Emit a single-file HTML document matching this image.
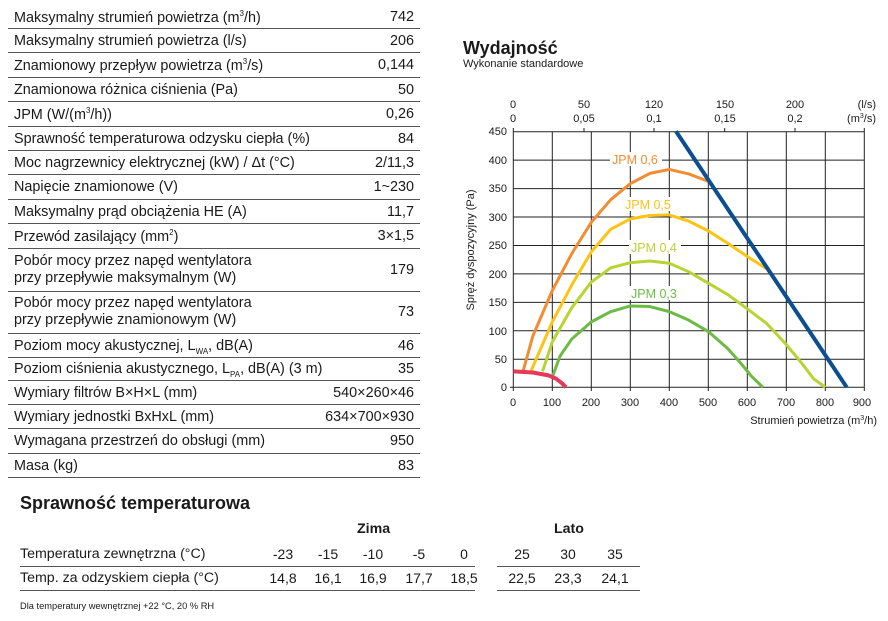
<!DOCTYPE html>
<html><head><meta charset="utf-8"><style>
body{margin:0;width:888px;height:621px;background:#fff;font-family:"Liberation Sans",sans-serif;color:#1a1a1a;position:relative;overflow:hidden}
.r{position:absolute;left:8px;width:412px;border-bottom:1.5px solid #555;font-size:14.4px;box-sizing:border-box}
.r .l{position:absolute;left:6px;white-space:nowrap}
.r .v{position:absolute;right:6px;}
sup{font-size:8px}
sub{font-size:8px}
.t{position:absolute;font-size:14.2px}
</style></head><body>
<div class="r" style="top:5px;height:24px"><span class="l" style="top:4px">Maksymalny strumień powietrza (m<sup>3</sup>/h)</span><span class="v" style="top:4px">742</span></div>
<div class="r" style="top:29px;height:24px"><span class="l" style="top:4px">Maksymalny strumień powietrza (l/s)</span><span class="v" style="top:4px">206</span></div>
<div class="r" style="top:53px;height:25px"><span class="l" style="top:4px">Znamionowy przepływ powietrza (m<sup>3</sup>/s)</span><span class="v" style="top:4px">0,144</span></div>
<div class="r" style="top:78px;height:24px"><span class="l" style="top:4px">Znamionowa różnica ciśnienia (Pa)</span><span class="v" style="top:4px">50</span></div>
<div class="r" style="top:102px;height:25px"><span class="l" style="top:4px">JPM (W/(m<sup>3</sup>/h))</span><span class="v" style="top:4px">0,26</span></div>
<div class="r" style="top:127px;height:24px"><span class="l" style="top:4px">Sprawność temperaturowa odzysku ciepła (%)</span><span class="v" style="top:4px">84</span></div>
<div class="r" style="top:151px;height:24px"><span class="l" style="top:4px">Moc nagrzewnicy elektrycznej (kW) / Δt (°C)</span><span class="v" style="top:4px">2/11,3</span></div>
<div class="r" style="top:175px;height:25px"><span class="l" style="top:4px">Napięcie znamionowe (V)</span><span class="v" style="top:4px">1~230</span></div>
<div class="r" style="top:200px;height:24px"><span class="l" style="top:4px">Maksymalny prąd obciążenia HE (A)</span><span class="v" style="top:4px">11,7</span></div>
<div class="r" style="top:224px;height:25px"><span class="l" style="top:4px">Przewód zasilający (mm<sup>2</sup>)</span><span class="v" style="top:4px">3×1,5</span></div>
<div class="r" style="top:249px;height:43px"><span class="l" style="top:4px;line-height:17px">Pobór mocy przez napęd wentylatora<br>przy przepływie maksymalnym (W)</span><span class="v" style="top:13px">179</span></div>
<div class="r" style="top:292px;height:42px"><span class="l" style="top:3px;line-height:17px">Pobór mocy przez napęd wentylatora<br>przy przepływie znamionowym (W)</span><span class="v" style="top:12px">73</span></div>
<div class="r" style="top:334px;height:24px"><span class="l" style="top:4px">Poziom mocy akustycznej, L<sub>WA</sub>, dB(A)</span><span class="v" style="top:4px">46</span></div>
<div class="r" style="top:358px;height:23px"><span class="l" style="top:3px">Poziom ciśnienia akustycznego, L<sub>PA</sub>, dB(A) (3 m)</span><span class="v" style="top:3px">35</span></div>
<div class="r" style="top:381px;height:24px"><span class="l" style="top:4px">Wymiary filtrów B×H×L (mm)</span><span class="v" style="top:4px">540×260×46</span></div>
<div class="r" style="top:405px;height:24px"><span class="l" style="top:4px">Wymiary jednostki BxHxL (mm)</span><span class="v" style="top:4px">634×700×930</span></div>
<div class="r" style="top:429px;height:25px"><span class="l" style="top:4px">Wymagana przestrzeń do obsługi (mm)</span><span class="v" style="top:4px">950</span></div>
<div class="r" style="top:454px;height:24px"><span class="l" style="top:4px">Masa (kg)</span><span class="v" style="top:4px">83</span></div>

<div style="position:absolute;left:20px;top:493px;font-size:18px;font-weight:bold">Sprawność temperaturowa</div>
<div class="t" style="left:357px;top:521px;font-weight:bold">Zima</div>
<div class="t" style="left:554px;top:521px;font-weight:bold">Lato</div>
<div style="position:absolute;left:20px;top:566px;width:455px;border-top:1.5px solid #555"></div>
<div style="position:absolute;left:20px;top:590px;width:455px;border-top:1.5px solid #555"></div>
<div style="position:absolute;left:497px;top:566px;width:143px;border-top:1.5px solid #555"></div>
<div style="position:absolute;left:497px;top:590px;width:143px;border-top:1.5px solid #555"></div>
<div class="t" style="left:20px;top:546px">Temperatura zewnętrzna (°C)</div>
<div class="t" style="left:20px;top:570px">Temp. za odzyskiem ciepła (°C)</div>
<svg style="position:absolute;left:0;top:0" width="888" height="621">
<g font-family="Liberation Sans" font-size="14" text-anchor="middle" fill="#1a1a1a">
<text x="283" y="559">-23</text><text x="328" y="559">-15</text><text x="373" y="559">-10</text><text x="419" y="559">-5</text><text x="464" y="559">0</text>
<text x="522" y="559">25</text><text x="568" y="559">30</text><text x="615" y="559">35</text>
<text x="283" y="583">14,8</text><text x="328" y="583">16,1</text><text x="373" y="583">16,9</text><text x="419" y="583">17,7</text><text x="464" y="583">18,5</text>
<text x="522" y="583">22,5</text><text x="568" y="583">23,3</text><text x="615" y="583">24,1</text>
</g>
<text x="20" y="609" font-family="Liberation Sans" font-size="9.3" fill="#1a1a1a">Dla temperatury wewnętrznej +22 °C, 20 % RH</text>

<text x="463" y="54" font-family="Liberation Sans" font-size="18" font-weight="bold" fill="#1a1a1a">Wydajność</text>
<text x="463" y="67" font-family="Liberation Sans" font-size="11" fill="#1a1a1a">Wykonanie standardowe</text>

<g stroke="#222" stroke-width="1">
<line x1="513.3" y1="131.7" x2="864.3" y2="131.7"/>
<line x1="513.3" y1="160.1" x2="864.3" y2="160.1"/><line x1="513.3" y1="188.6" x2="864.3" y2="188.6"/>
<line x1="513.3" y1="217" x2="864.3" y2="217"/><line x1="513.3" y1="245.5" x2="864.3" y2="245.5"/>
<line x1="513.3" y1="273.9" x2="864.3" y2="273.9"/><line x1="513.3" y1="302.4" x2="864.3" y2="302.4"/>
<line x1="513.3" y1="330.8" x2="864.3" y2="330.8"/><line x1="513.3" y1="359.3" x2="864.3" y2="359.3"/>
<line x1="510" y1="387.3" x2="864.3" y2="387.3"/>
<line x1="513.3" y1="128" x2="513.3" y2="391"/><line x1="552.3" y1="131.7" x2="552.3" y2="391"/>
<line x1="591.3" y1="131.7" x2="591.3" y2="391"/><line x1="630.3" y1="131.7" x2="630.3" y2="391"/>
<line x1="669.3" y1="131.7" x2="669.3" y2="391"/><line x1="708.3" y1="131.7" x2="708.3" y2="391"/>
<line x1="747.3" y1="131.7" x2="747.3" y2="391"/><line x1="786.3" y1="131.7" x2="786.3" y2="391"/>
<line x1="825.3" y1="131.7" x2="825.3" y2="391"/><line x1="864.3" y1="128" x2="864.3" y2="391"/>
<line x1="584" y1="128" x2="584" y2="131.7"/><line x1="654" y1="128" x2="654" y2="131.7"/>
<line x1="724.7" y1="128" x2="724.7" y2="131.7"/><line x1="795" y1="128" x2="795" y2="131.7"/>
</g>
<g font-family="Liberation Sans" font-size="11" fill="#1a1a1a" text-anchor="end">
<text x="507" y="135">450</text><text x="507" y="164">400</text><text x="507" y="192">350</text><text x="507" y="221">300</text>
<text x="507" y="249">250</text><text x="507" y="278">200</text><text x="507" y="306">150</text><text x="507" y="335">100</text>
<text x="507" y="363">50</text><text x="507" y="391">0</text>
</g>
<g font-family="Liberation Sans" font-size="11" fill="#1a1a1a" text-anchor="middle">
<text x="513" y="406">0</text><text x="552" y="406">100</text><text x="591" y="406">200</text><text x="630" y="406">300</text>
<text x="669" y="406">400</text><text x="708" y="406">500</text><text x="747" y="406">600</text><text x="786" y="406">700</text>
<text x="825" y="406">800</text><text x="862" y="406">900</text>
<text x="513" y="108">0</text><text x="584" y="108">50</text><text x="654" y="108">120</text><text x="725" y="108">150</text><text x="795" y="108">200</text>
<text x="513" y="122">0</text><text x="584" y="122">0,05</text><text x="654" y="122">0,1</text><text x="725" y="122">0,15</text><text x="795" y="122">0,2</text>
</g>
<g font-family="Liberation Sans" font-size="11" fill="#1a1a1a" text-anchor="end">
<text x="876" y="108">(l/s)</text><text x="876" y="122">(m<tspan font-size="7" dy="-4">3</tspan><tspan dy="4">/s)</tspan></text>
<text x="877" y="424">Strumień powietrza (m<tspan font-size="7" dy="-4">3</tspan><tspan dy="4">/h)</tspan></text>
</g>
<text transform="translate(474,250) rotate(-90)" font-family="Liberation Sans" font-size="11" fill="#1a1a1a" text-anchor="middle">Spręż dyspozycyjny (Pa)</text>

<g transform="matrix(0.39 0 0 -0.5689 513.3 387.3)" fill="none" stroke-linejoin="round" stroke-linecap="butt">
<polyline vector-effect="non-scaling-stroke" stroke="#f28c33" stroke-width="3" points="25,28 50,90 100,170 150,235 200,290 250,330 300,358 350,376 400,383 450,375 500,362"/>
<polyline vector-effect="non-scaling-stroke" stroke="#fcc414" stroke-width="3" points="45,28 100,115 150,180 200,238 250,278 300,296 350,302 400,303 450,292 500,275 550,253 600,230 650,208"/>
<polyline vector-effect="non-scaling-stroke" stroke="#b8d433" stroke-width="3" points="75,28 100,80 150,140 200,185 250,210 300,219 350,222 400,218 450,203 500,183 550,163 600,138 650,112 700,75 740,42 770,15 800,0"/>
<polyline vector-effect="non-scaling-stroke" stroke="#6cbb45" stroke-width="3" points="100,18 120,55 150,85 200,115 250,133 300,143 350,142 400,133 450,118 500,98 550,68 580,45 610,20 640,0"/>
<polyline vector-effect="non-scaling-stroke" stroke="#e63a5c" stroke-width="4" points="0,28 50,26 90,21 110,15 125,7 135,0"/>
<polyline vector-effect="non-scaling-stroke" stroke="#0b4f8f" stroke-width="4" points="417,450 855,0"/>
</g>
<g font-family="Liberation Sans" font-size="12.5">
<rect x="610" y="152" width="52" height="14" fill="#fff"/><text x="612" y="164" fill="#f28c33">JPM 0,6</text>
<rect x="623" y="197" width="52" height="14" fill="#fff"/><text x="625" y="209" fill="#fcc414">JPM 0,5</text>
<rect x="629" y="240" width="52" height="14" fill="#fff"/><text x="631" y="252" fill="#b8d433">JPM 0,4</text>
<rect x="629" y="286" width="52" height="14" fill="#fff"/><text x="631" y="298" fill="#6cbb45">JPM 0,3</text>
</g>
</svg>
</body></html>
